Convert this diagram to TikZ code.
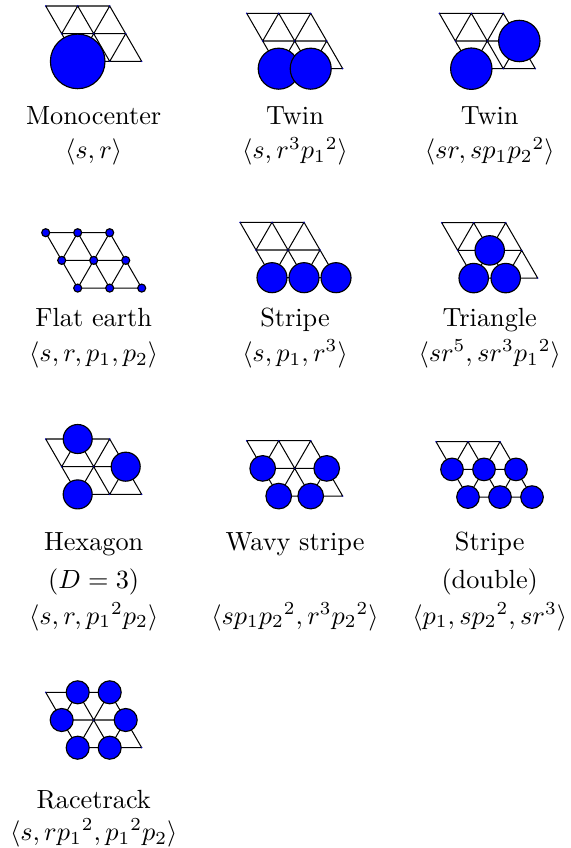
\documentclass[tikz,border=0pt]{standalone}
\usepackage{amsmath}
\tikzset{
  latt/.style={draw=black, line width=0.4pt},
  vdot/.style={fill=blue!70!black},
  bigc/.style={fill=blue, draw=black, line width=0.45pt},
  lbl/.style={inner sep=0pt, anchor=base, font=\normalsize, scale=1.03},
}
\newcommand\trilattice[3]{%
  \foreach \r in {0,1,2}{\foreach \c in {0,1,2}{%
    \coordinate (#1-\r\c) at ({#2+32*\c+16*\r},{#3+27.7*\r});}}
  \draw[latt] (#1-00)--(#1-02) (#1-10)--(#1-12) (#1-20)--(#1-22)
    (#1-00)--(#1-20) (#1-01)--(#1-21) (#1-02)--(#1-22)
    (#1-01)--(#1-10) (#1-02)--(#1-20) (#1-12)--(#1-21);
  \foreach \r in {0,1,2}{\foreach \c in {0,1,2}{%
    \fill[vdot] (#1-\r\c) circle[radius=0.8];}}
}
\newcommand\bigdisc[2]{\draw[bigc] (#1) circle[radius=#2];}
\begin{document}
\begin{tikzpicture}[x=0.392pt, y=-0.392pt]
\useasboundingbox (0,0) rectangle (571,848);
% Row 1
\trilattice{a}{45.7}{6}
\bigdisc{a-20}{27.3}
\node[lbl] (ta) at (93.7,125) {Monocenter};
\node[lbl] (fa) at (93.7,159) {$\langle s, r\rangle$};

\trilattice{b}{246.7}{13.3}
\bigdisc{b-20}{20.5}
\bigdisc{b-21}{20.5}
\node[lbl] (tb) at (295,125) {Twin};
\node[lbl] (fb) at (295,159) {$\langle s, r^3{p_1}^2\rangle$};

\trilattice{c}{439.3}{13.3}
\bigdisc{c-20}{20.7}
\bigdisc{c-12}{20.7}
\node[lbl] (tc) at (489.7,125) {Twin};
\node[lbl] (fc) at (489.7,159) {$\langle sr, sp_1{p_2}^2\rangle$};

% Row 2
\trilattice{d}{45.7}{232.7}
\foreach \r in {0,1,2}{\foreach \c in {0,1,2}{%
  \draw[bigc] (d-\r\c) circle[radius=4];}}
\node[lbl] (td) at (93.7,327) {Flat earth};
\node[lbl] (fd) at (93.7,361.5) {$\langle s, r, p_1, p_2\rangle$};

\trilattice{e}{240}{222.3}
\bigdisc{e-20}{15}
\bigdisc{e-21}{15}
\bigdisc{e-22}{15}
\node[lbl] (te) at (295,327) {Stripe};
\node[lbl] (fe) at (295,361.5) {$\langle s, p_1, r^3\rangle$};

\trilattice{f}{441.7}{222.7}
\bigdisc{f-11}{14.7}
\bigdisc{f-20}{14.7}
\bigdisc{f-21}{14.7}
\node[lbl] (tf) at (489.7,327) {Triangle};
\node[lbl] (ff) at (489.7,361.5) {$\langle sr^5, sr^3{p_1}^2\rangle$};

% Row 3
\trilattice{g}{45.7}{439}
\bigdisc{g-01}{14.5}
\bigdisc{g-12}{14.5}
\bigdisc{g-20}{14.5}
\node[lbl] (tg) at (93.7,550) {Hexagon};
\node[lbl] (sg) at (93.7,588) {$(D=3)$};
\node[lbl] (fg) at (93.7,624) {$\langle s, r, {p_1}^2p_2\rangle$};

\trilattice{h}{246.7}{440.7}
\bigdisc{h-10}{12.8}
\bigdisc{h-12}{12.8}
\bigdisc{h-20}{12.8}
\bigdisc{h-21}{12.8}
\node[lbl] (th) at (295,550) {Wavy stripe};
\node[lbl] (fh) at (295,624) {$\langle sp_1{p_2}^2, r^3{p_2}^2\rangle$};

\trilattice{i}{436}{441.7}
\bigdisc{i-10}{11.3}
\bigdisc{i-11}{11.3}
\bigdisc{i-12}{11.3}
\bigdisc{i-20}{11.3}
\bigdisc{i-21}{11.3}
\bigdisc{i-22}{11.3}
\node[lbl] (ti) at (489.7,550) {Stripe};
\node[lbl] (si) at (489.7,588) {(double)};
\node[lbl] (fi) at (489.7,624) {$\langle p_1, s{p_2}^2, sr^3\rangle$};

% Row 4
\trilattice{j}{45.7}{692.3}
\bigdisc{j-01}{11.5}
\bigdisc{j-02}{11.5}
\bigdisc{j-10}{11.5}
\bigdisc{j-12}{11.5}
\bigdisc{j-20}{11.5}
\bigdisc{j-21}{11.5}
\node[lbl] (tj) at (93.7,808.5) {Racetrack};
\node[lbl] (fj) at (93.7,840.5) {$\langle s, r{p_1}^2, {p_1}^2p_2\rangle$};
\end{tikzpicture}
\end{document}
